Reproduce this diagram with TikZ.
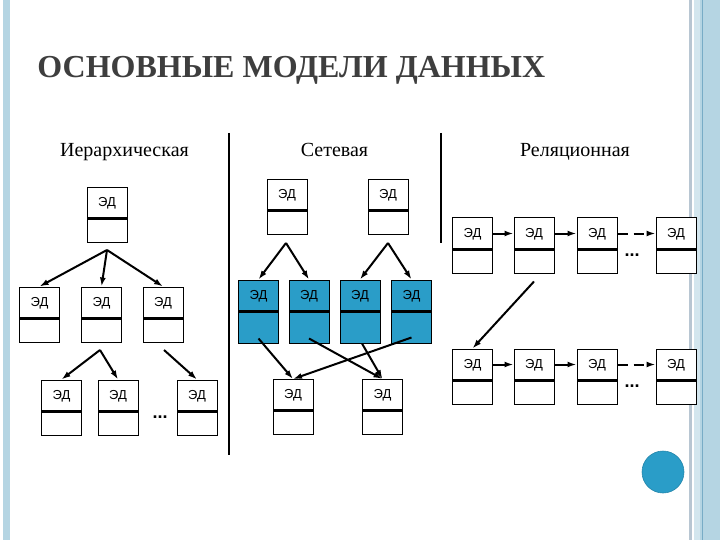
\documentclass[tikz,border=0pt]{standalone}
\usepackage{fontspec}
\setmainfont{Liberation Serif}
\newfontfamily\edfont{Liberation Sans}
\usetikzlibrary{shapes,arrows,arrows.meta,fit,calc,positioning}
\definecolor{edblue}{RGB}{42,157,200}
\definecolor{rimblue}{RGB}{181,213,227}
\definecolor{rimline}{RGB}{120,172,198}
\definecolor{rimgray}{RGB}{184,198,210}
\definecolor{titlegray}{RGB}{62,62,62}

\begin{document}
\begin{tikzpicture}[x=1pt,y=-1pt,thick]
             \tikzstyle{ed} = [draw,fill=white,line width=1pt,inner xsep=0pt,inner ysep=0pt,
                minimum width=40pt,text height=19pt,text depth=36pt,
                font=\edfont\fontsize{13}{13}\selectfont,
                path picture={\draw[line width=3pt]
                ([yshift=-31pt]path picture bounding box.north west) --
                ([yshift=-31pt]path picture bounding box.north east);}]
             \tikzstyle{edb} = [ed,fill=edblue,text depth=44pt]
             \tikzstyle{link} = [-{Latex[length=9pt,width=6pt]},line width=2pt]
             \tikzstyle{dots} = [font=\edfont\bfseries\fontsize{18}{18}\selectfont,inner sep=0pt,anchor=base]
             \tikzstyle{head} = [font=\fontsize{20}{20}\selectfont,anchor=base,inner sep=0pt]
		\useasboundingbox (0,0) rectangle (720,540);
		% Frame
		\fill[rimblue] (3,0) rectangle (10,540);
		\fill[rimgray] (689,0) rectangle (692,540);
		\fill[rimblue!60] (694,0) rectangle (700,540);
		\fill[rimblue] (700,0) rectangle (720,540);
		\fill[rimline] (701.5,0) rectangle (703,540);
		% Title
		\node[anchor=base west,inner sep=0pt,text=titlegray,font=\bfseries\fontsize{32}{32}\selectfont] (title) at (37,78) {ОСНОВНЫЕ МОДЕЛИ ДАННЫХ};
		\node[head] (hier) at (124.5,157) {Иерархическая};
		\node[head] (net) at (334.5,157) {Сетевая};
		\node[head] (rel) at (575,157) {Реляционная};
		\draw[line width=2pt] (229,133) -- (229,455);
		\draw[line width=2pt] (441,133) -- (441,243);
		% Hierarchy
		\node[ed] (h0_0) at (107,215) {ЭД};
		\node[ed] (h1_0) at (39.5,314.5) {ЭД};
		\node[ed] (h1_1) at (101.5,314.5) {ЭД};
		\node[ed] (h1_2) at (163,314.5) {ЭД};
		\node[ed] (h2_0) at (61.5,407.5) {ЭД};
		\node[ed] (h2_1) at (118,407.5) {ЭД};
		\node[ed] (h2_2) at (197,407.5) {ЭД};
		\node[dots] (hdots) at (160,418) {...};
		\coordinate (hf0) at (107,250);
		\coordinate (hf1) at (100,350);
		\coordinate (hf2) at (164,350);
		\draw[link] (hf0) -- (h1_0.north);
		\draw[link] (hf0) -- (h1_1.north);
		\draw[link] (hf0) -- (h1_2.north);
		\draw[link] (hf1) -- (h2_0.north);
		\draw[link] (hf1) -- (h2_1.north);
		\draw[link] (hf2) -- (h2_2.north);
		% Network
		\node[ed] (n0_0) at (287,207) {ЭД};
		\node[ed] (n0_1) at (388,207) {ЭД};
		\node[edb] (n1_0) at (258.5,311.5) {ЭД};
		\node[edb] (n1_1) at (309,311.5) {ЭД};
		\node[edb] (n1_2) at (360,311.5) {ЭД};
		\node[edb] (n1_3) at (411.5,311.5) {ЭД};
		\node[ed] (n2_0) at (293,407) {ЭД};
		\node[ed] (n2_1) at (382.5,407) {ЭД};
		\coordinate (nf0) at (286,243);
		\coordinate (nf1) at (388,243);
		\draw[link] (nf0) -- (n1_0.north);
		\draw[link] (nf0) -- (n1_1.north);
		\draw[link] (nf1) -- (n1_2.north);
		\draw[link] (nf1) -- (n1_3.north);
		\draw[link] ([yshift=5pt]n1_0.south) -- (n2_0.north);
		\draw[link] ([yshift=5pt]n1_1.south) -- (n2_1.north);
		\draw[link] ([xshift=2pt]n1_2.south) -- (n2_1.north);
		\draw[link] ([yshift=6pt]n1_3.south) -- (n2_0.north);
		% Relational
		\foreach \i/\x in {0/472.5,1/534,2/597,3/676}{
		  \node[ed] (r0_\i) at (\x,245.5) {ЭД};
		  \node[ed] (r1_\i) at (\x,376.5) {ЭД};
		}
		\node[dots] (rdots0) at (632,256) {...};
		\node[dots] (rdots1) at (632,387) {...};
		\foreach \r in {0,1}{
		  \draw[link] ([yshift=12pt]r\r_0.east) -- ([yshift=12pt]r\r_1.west);
		  \draw[link] ([yshift=12pt]r\r_1.east) -- ([yshift=12pt]r\r_2.west);
		  \draw[link,dash pattern=on 10pt off 6pt] ([yshift=12pt]r\r_2.east) -- ([yshift=12pt]r\r_3.west);
		}
		\draw[link] ([yshift=-8pt]r0_1.south) -- (r1_0.north);
		% Marker
		\node[circle,fill=edblue,draw=edblue!85!black,line width=0.6pt,minimum size=42pt] (dot) at (663,472) {};
		\end{tikzpicture}
\end{document}
